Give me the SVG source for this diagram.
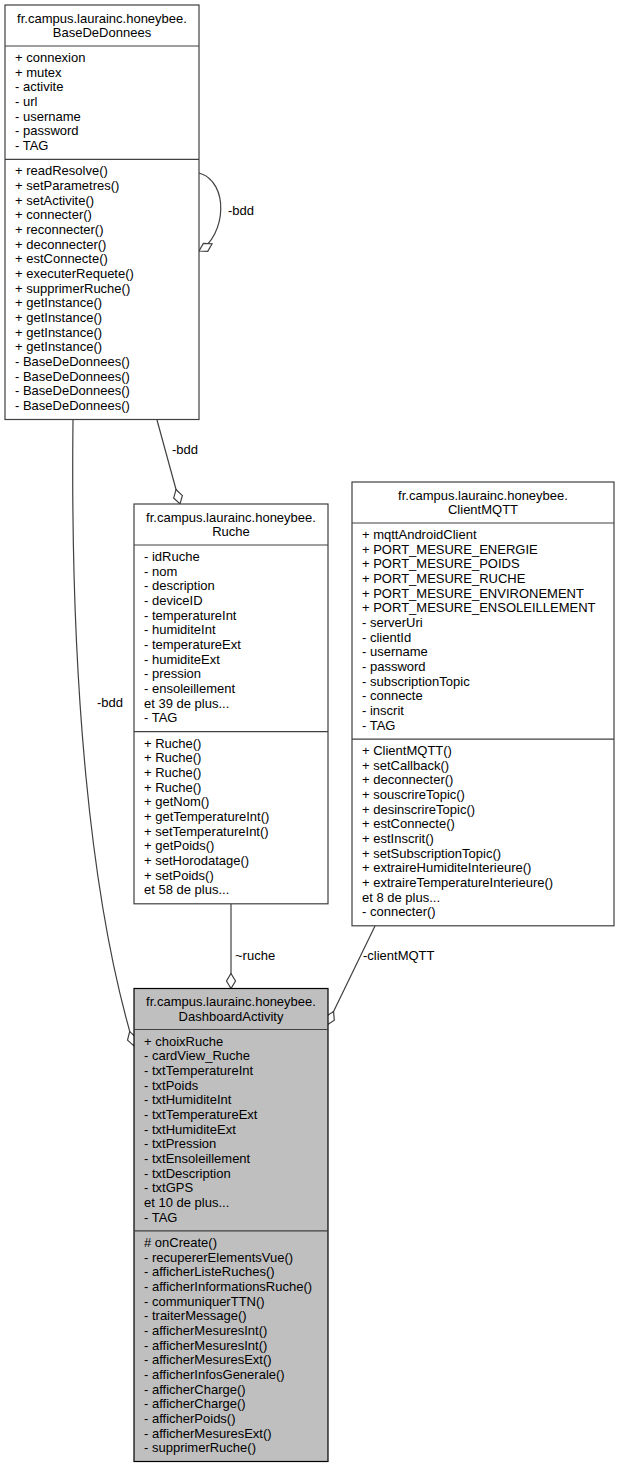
<svg xmlns="http://www.w3.org/2000/svg" width="620" height="1468" viewBox="0 0 620 1468">
<style>
text{font-family:"Liberation Sans",Arial,Helvetica,sans-serif;font-size:13px;fill:#000}
.t{text-anchor:middle}
.box{fill:#fff;stroke:#404040;stroke-width:1.2}
.main{fill:#bfbfbf;stroke:#000;stroke-width:1.2}
.sep{stroke:#404040;stroke-width:1.2}
.edge{fill:none;stroke:#404040;stroke-width:1.2;marker-end:url(#od)}
</style>
<defs>
<marker id="od" markerUnits="userSpaceOnUse" markerWidth="16" markerHeight="11" refX="15" refY="5" orient="auto" overflow="visible">
<path d="M0,5 L7.5,0.5 L15,5 L7.5,9.5 Z" fill="#fff" stroke="#404040" stroke-width="1.2"/>
</marker>
</defs>
<g id="connectors">
<path class="edge" d="M199,173 C230,182 226,236 199,251"/>
<text x="228" y="215">-bdd</text>
<path class="edge" d="M157,420 L180,504"/>
<text x="172" y="454">-bdd</text>
<path class="edge" d="M73,420 C70,680 90,900 134,1046"/>
<text x="97" y="707">-bdd</text>
<path class="edge" d="M231,904 L231,988.5"/>
<text x="235" y="960">~ruche</text>
<path class="edge" d="M375,926 L327,1025"/>
<text x="363" y="960">-clientMQTT</text>
</g>
<g id="BaseDeDonnees">
<rect class="box" x="5" y="5" width="194" height="414.5"/>
<line class="sep" x1="5" y1="46" x2="199" y2="46"/>
<line class="sep" x1="5" y1="159.4" x2="199" y2="159.4"/>
<text class="t" x="102" y="22.5">fr.campus.laurainc.honeybee.</text>
<text class="t" x="102" y="37">BaseDeDonnees</text>
<text x="15" y="62"><tspan x="15">+ connexion</tspan><tspan x="15" dy="14.67">+ mutex</tspan><tspan x="15" dy="14.67">- activite</tspan><tspan x="15" dy="14.67">- url</tspan><tspan x="15" dy="14.67">- username</tspan><tspan x="15" dy="14.67">- password</tspan><tspan x="15" dy="14.67">- TAG</tspan></text>
<text x="15" y="175.4"><tspan x="15">+ readResolve()</tspan><tspan x="15" dy="14.67">+ setParametres()</tspan><tspan x="15" dy="14.67">+ setActivite()</tspan><tspan x="15" dy="14.67">+ connecter()</tspan><tspan x="15" dy="14.67">+ reconnecter()</tspan><tspan x="15" dy="14.67">+ deconnecter()</tspan><tspan x="15" dy="14.67">+ estConnecte()</tspan><tspan x="15" dy="14.67">+ executerRequete()</tspan><tspan x="15" dy="14.67">+ supprimerRuche()</tspan><tspan x="15" dy="14.67">+ getInstance()</tspan><tspan x="15" dy="14.67">+ getInstance()</tspan><tspan x="15" dy="14.67">+ getInstance()</tspan><tspan x="15" dy="14.67">+ getInstance()</tspan><tspan x="15" dy="14.67">- BaseDeDonnees()</tspan><tspan x="15" dy="14.67">- BaseDeDonnees()</tspan><tspan x="15" dy="14.67">- BaseDeDonnees()</tspan><tspan x="15" dy="14.67">- BaseDeDonnees()</tspan></text>
</g>
<g id="Ruche">
<rect class="box" x="134" y="504" width="194" height="399.8"/>
<line class="sep" x1="134" y1="545" x2="328" y2="545"/>
<line class="sep" x1="134" y1="731.7" x2="328" y2="731.7"/>
<text class="t" x="231" y="521.5">fr.campus.laurainc.honeybee.</text>
<text class="t" x="231" y="536">Ruche</text>
<text x="144" y="561"><tspan x="144">- idRuche</tspan><tspan x="144" dy="14.67">- nom</tspan><tspan x="144" dy="14.67">- description</tspan><tspan x="144" dy="14.67">- deviceID</tspan><tspan x="144" dy="14.67">- temperatureInt</tspan><tspan x="144" dy="14.67">- humiditeInt</tspan><tspan x="144" dy="14.67">- temperatureExt</tspan><tspan x="144" dy="14.67">- humiditeExt</tspan><tspan x="144" dy="14.67">- pression</tspan><tspan x="144" dy="14.67">- ensoleillement</tspan><tspan x="144" dy="14.67">et 39 de plus...</tspan><tspan x="144" dy="14.67">- TAG</tspan></text>
<text x="144" y="747.7"><tspan x="144">+ Ruche()</tspan><tspan x="144" dy="14.67">+ Ruche()</tspan><tspan x="144" dy="14.67">+ Ruche()</tspan><tspan x="144" dy="14.67">+ Ruche()</tspan><tspan x="144" dy="14.67">+ getNom()</tspan><tspan x="144" dy="14.67">+ getTemperatureInt()</tspan><tspan x="144" dy="14.67">+ setTemperatureInt()</tspan><tspan x="144" dy="14.67">+ getPoids()</tspan><tspan x="144" dy="14.67">+ setHorodatage()</tspan><tspan x="144" dy="14.67">+ setPoids()</tspan><tspan x="144" dy="14.67">et 58 de plus...</tspan></text>
</g>
<g id="ClientMQTT">
<rect class="box" x="352" y="482" width="262" height="443.8"/>
<line class="sep" x1="352" y1="523" x2="614" y2="523"/>
<line class="sep" x1="352" y1="739.1" x2="614" y2="739.1"/>
<text class="t" x="483" y="499.5">fr.campus.laurainc.honeybee.</text>
<text class="t" x="483" y="514">ClientMQTT</text>
<text x="362" y="539"><tspan x="362">+ mqttAndroidClient</tspan><tspan x="362" dy="14.67">+ PORT_MESURE_ENERGIE</tspan><tspan x="362" dy="14.67">+ PORT_MESURE_POIDS</tspan><tspan x="362" dy="14.67">+ PORT_MESURE_RUCHE</tspan><tspan x="362" dy="14.67">+ PORT_MESURE_ENVIRONEMENT</tspan><tspan x="362" dy="14.67">+ PORT_MESURE_ENSOLEILLEMENT</tspan><tspan x="362" dy="14.67">- serverUri</tspan><tspan x="362" dy="14.67">- clientId</tspan><tspan x="362" dy="14.67">- username</tspan><tspan x="362" dy="14.67">- password</tspan><tspan x="362" dy="14.67">- subscriptionTopic</tspan><tspan x="362" dy="14.67">- connecte</tspan><tspan x="362" dy="14.67">- inscrit</tspan><tspan x="362" dy="14.67">- TAG</tspan></text>
<text x="362" y="755.1"><tspan x="362">+ ClientMQTT()</tspan><tspan x="362" dy="14.67">+ setCallback()</tspan><tspan x="362" dy="14.67">+ deconnecter()</tspan><tspan x="362" dy="14.67">+ souscrireTopic()</tspan><tspan x="362" dy="14.67">+ desinscrireTopic()</tspan><tspan x="362" dy="14.67">+ estConnecte()</tspan><tspan x="362" dy="14.67">+ estInscrit()</tspan><tspan x="362" dy="14.67">+ setSubscriptionTopic()</tspan><tspan x="362" dy="14.67">+ extraireHumiditeInterieure()</tspan><tspan x="362" dy="14.67">+ extraireTemperatureInterieure()</tspan><tspan x="362" dy="14.67">et 8 de plus...</tspan><tspan x="362" dy="14.67">- connecter()</tspan></text>
</g>
<g id="DashboardActivity">
<rect class="main" x="134" y="988.5" width="194" height="473"/>
<line class="sep" x1="134" y1="1029.5" x2="328" y2="1029.5" stroke="#000"/>
<line class="sep" x1="134" y1="1230.9" x2="328" y2="1230.9" stroke="#000"/>
<text class="t" x="231" y="1006">fr.campus.laurainc.honeybee.</text>
<text class="t" x="231" y="1020.5">DashboardActivity</text>
<text x="144" y="1045.5"><tspan x="144">+ choixRuche</tspan><tspan x="144" dy="14.67">- cardView_Ruche</tspan><tspan x="144" dy="14.67">- txtTemperatureInt</tspan><tspan x="144" dy="14.67">- txtPoids</tspan><tspan x="144" dy="14.67">- txtHumiditeInt</tspan><tspan x="144" dy="14.67">- txtTemperatureExt</tspan><tspan x="144" dy="14.67">- txtHumiditeExt</tspan><tspan x="144" dy="14.67">- txtPression</tspan><tspan x="144" dy="14.67">- txtEnsoleillement</tspan><tspan x="144" dy="14.67">- txtDescription</tspan><tspan x="144" dy="14.67">- txtGPS</tspan><tspan x="144" dy="14.67">et 10 de plus...</tspan><tspan x="144" dy="14.67">- TAG</tspan></text>
<text x="144" y="1246.9"><tspan x="144"># onCreate()</tspan><tspan x="144" dy="14.67">- recupererElementsVue()</tspan><tspan x="144" dy="14.67">- afficherListeRuches()</tspan><tspan x="144" dy="14.67">- afficherInformationsRuche()</tspan><tspan x="144" dy="14.67">- communiquerTTN()</tspan><tspan x="144" dy="14.67">- traiterMessage()</tspan><tspan x="144" dy="14.67">- afficherMesuresInt()</tspan><tspan x="144" dy="14.67">- afficherMesuresInt()</tspan><tspan x="144" dy="14.67">- afficherMesuresExt()</tspan><tspan x="144" dy="14.67">- afficherInfosGenerale()</tspan><tspan x="144" dy="14.67">- afficherCharge()</tspan><tspan x="144" dy="14.67">- afficherCharge()</tspan><tspan x="144" dy="14.67">- afficherPoids()</tspan><tspan x="144" dy="14.67">- afficherMesuresExt()</tspan><tspan x="144" dy="14.67">- supprimerRuche()</tspan></text>
</g>
</svg>
